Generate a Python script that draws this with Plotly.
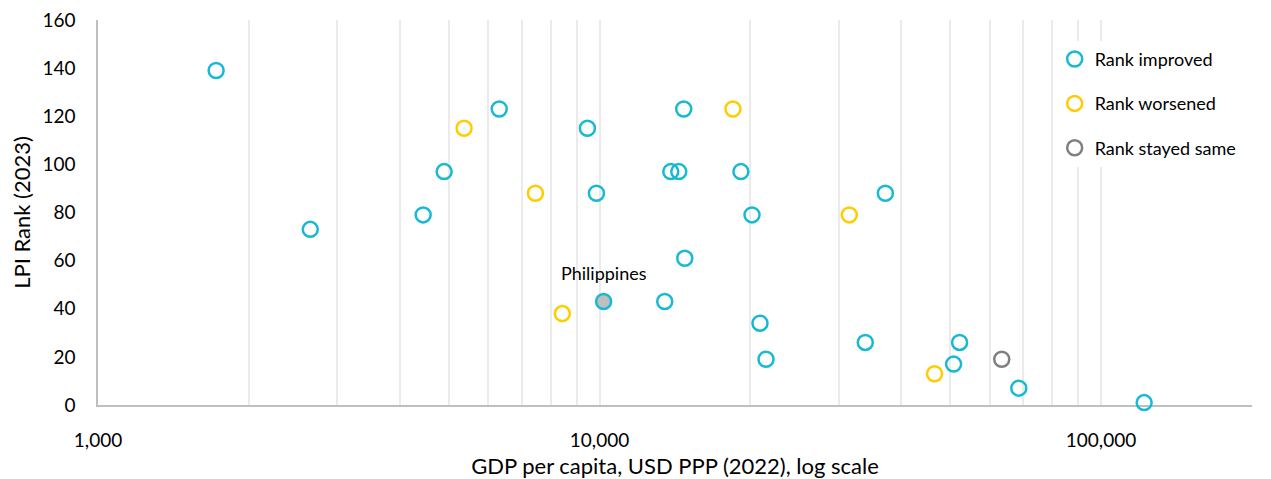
import numpy as np
import plotly.graph_objects as go

# GDP per capita (USD PPP, 2022) and LPI rank (2023)
improved_gdp = [1720, 2650, 4450, 4900, 6310, 9460, 9860, 13490, 13870, 14390,
                14720, 14790, 19140, 20140, 20890, 21480, 33880, 37150, 50820,
                52240, 68550, 121900]
improved_rank = [139, 73, 79, 97, 123, 115, 88, 43, 97, 97,
                 123, 61, 97, 79, 34, 19, 26, 88, 17,
                 26, 7, 1]

worsened_gdp = [5370, 7450, 8430, 18450, 31480, 46560]
worsened_rank = [115, 88, 38, 123, 79, 13]

same_gdp = [63390]
same_rank = [19]

ph_gdp = [10190]
ph_rank = [43]
ph_label = "Philippines"

CYAN = '#17B9D4'
YELLOW = '#FFCC00'
GREY = '#808080'
FONT = 'Lato'

fig = go.Figure()

for xs, ys, name, col in [
    (improved_gdp, improved_rank, 'Rank improved', CYAN),
    (worsened_gdp, worsened_rank, 'Rank worsened', YELLOW),
    (same_gdp, same_rank, 'Rank stayed same', GREY),
]:
    fig.add_trace(go.Scatter(
        x=xs, y=ys, mode='markers', name=name, legendgroup=name,
        marker=dict(size=15, color='rgba(0,0,0,0)', line=dict(color=col, width=2.5)),
        cliponaxis=False,
    ))

# Philippines highlighted
fig.add_trace(go.Scatter(
    x=ph_gdp, y=ph_rank, mode='markers',
    marker=dict(size=15, color='#BFBFBF', line=dict(color=CYAN, width=2.5)),
    showlegend=False, cliponaxis=False,
))
fig.add_annotation(
    x=np.log10(ph_gdp[0]), y=ph_rank[0], text=ph_label, showarrow=False,
    yshift=29, font=dict(size=18, color='#000000', family=FONT),
)

# minor log grid: every 1..9 x decade
grid_vals = [m * 10 ** e for e in range(3, 6) for m in range(1, 10)]
grid_vals = [v for v in grid_vals if v <= 200000]
tick_text = [f'{v:,}' if v in (1000, 10000, 100000) else '' for v in grid_vals]

# page body has an 8px margin, so the figure is sized to fit inside the window
fig.update_layout(
    width=1263, height=471,
    margin=dict(l=90, r=19, t=12, b=74),
    paper_bgcolor='white', plot_bgcolor='white',
    font=dict(family=FONT, size=18, color='#000000'),
    xaxis=dict(
        type='log', range=[3, np.log10(200000)],
        tickvals=grid_vals, ticktext=tick_text, ticks='',
        showgrid=True, gridcolor='#EBEBEB', gridwidth=2,
        showline=True, linecolor='#BFBFBF', linewidth=2,
        zeroline=False, layer='below traces', automargin=False,
        ticklabelstandoff=17, ticklabeloverflow='allow',
        title=dict(text='GDP per capita, USD PPP (2022), log scale', standoff=9),
        tickfont=dict(size=19),
    ),
    yaxis=dict(
        range=[0, 160], dtick=20, ticks='', showgrid=False,
        showline=True, linecolor='#BFBFBF', linewidth=1.5,
        zeroline=False, layer='below traces', automargin=False,
        ticklabelstandoff=17, ticklabeloverflow='allow',
        title=dict(text='LPI Rank (2023)', standoff=28),
        tickfont=dict(size=19),
    ),
    legend=dict(
        x=0.829, y=0.946, xanchor='left', yanchor='top',
        bgcolor='white', tracegroupgap=18, itemwidth=30,
        font=dict(size=18),
    ),
)

fig.write_html("out.html")
